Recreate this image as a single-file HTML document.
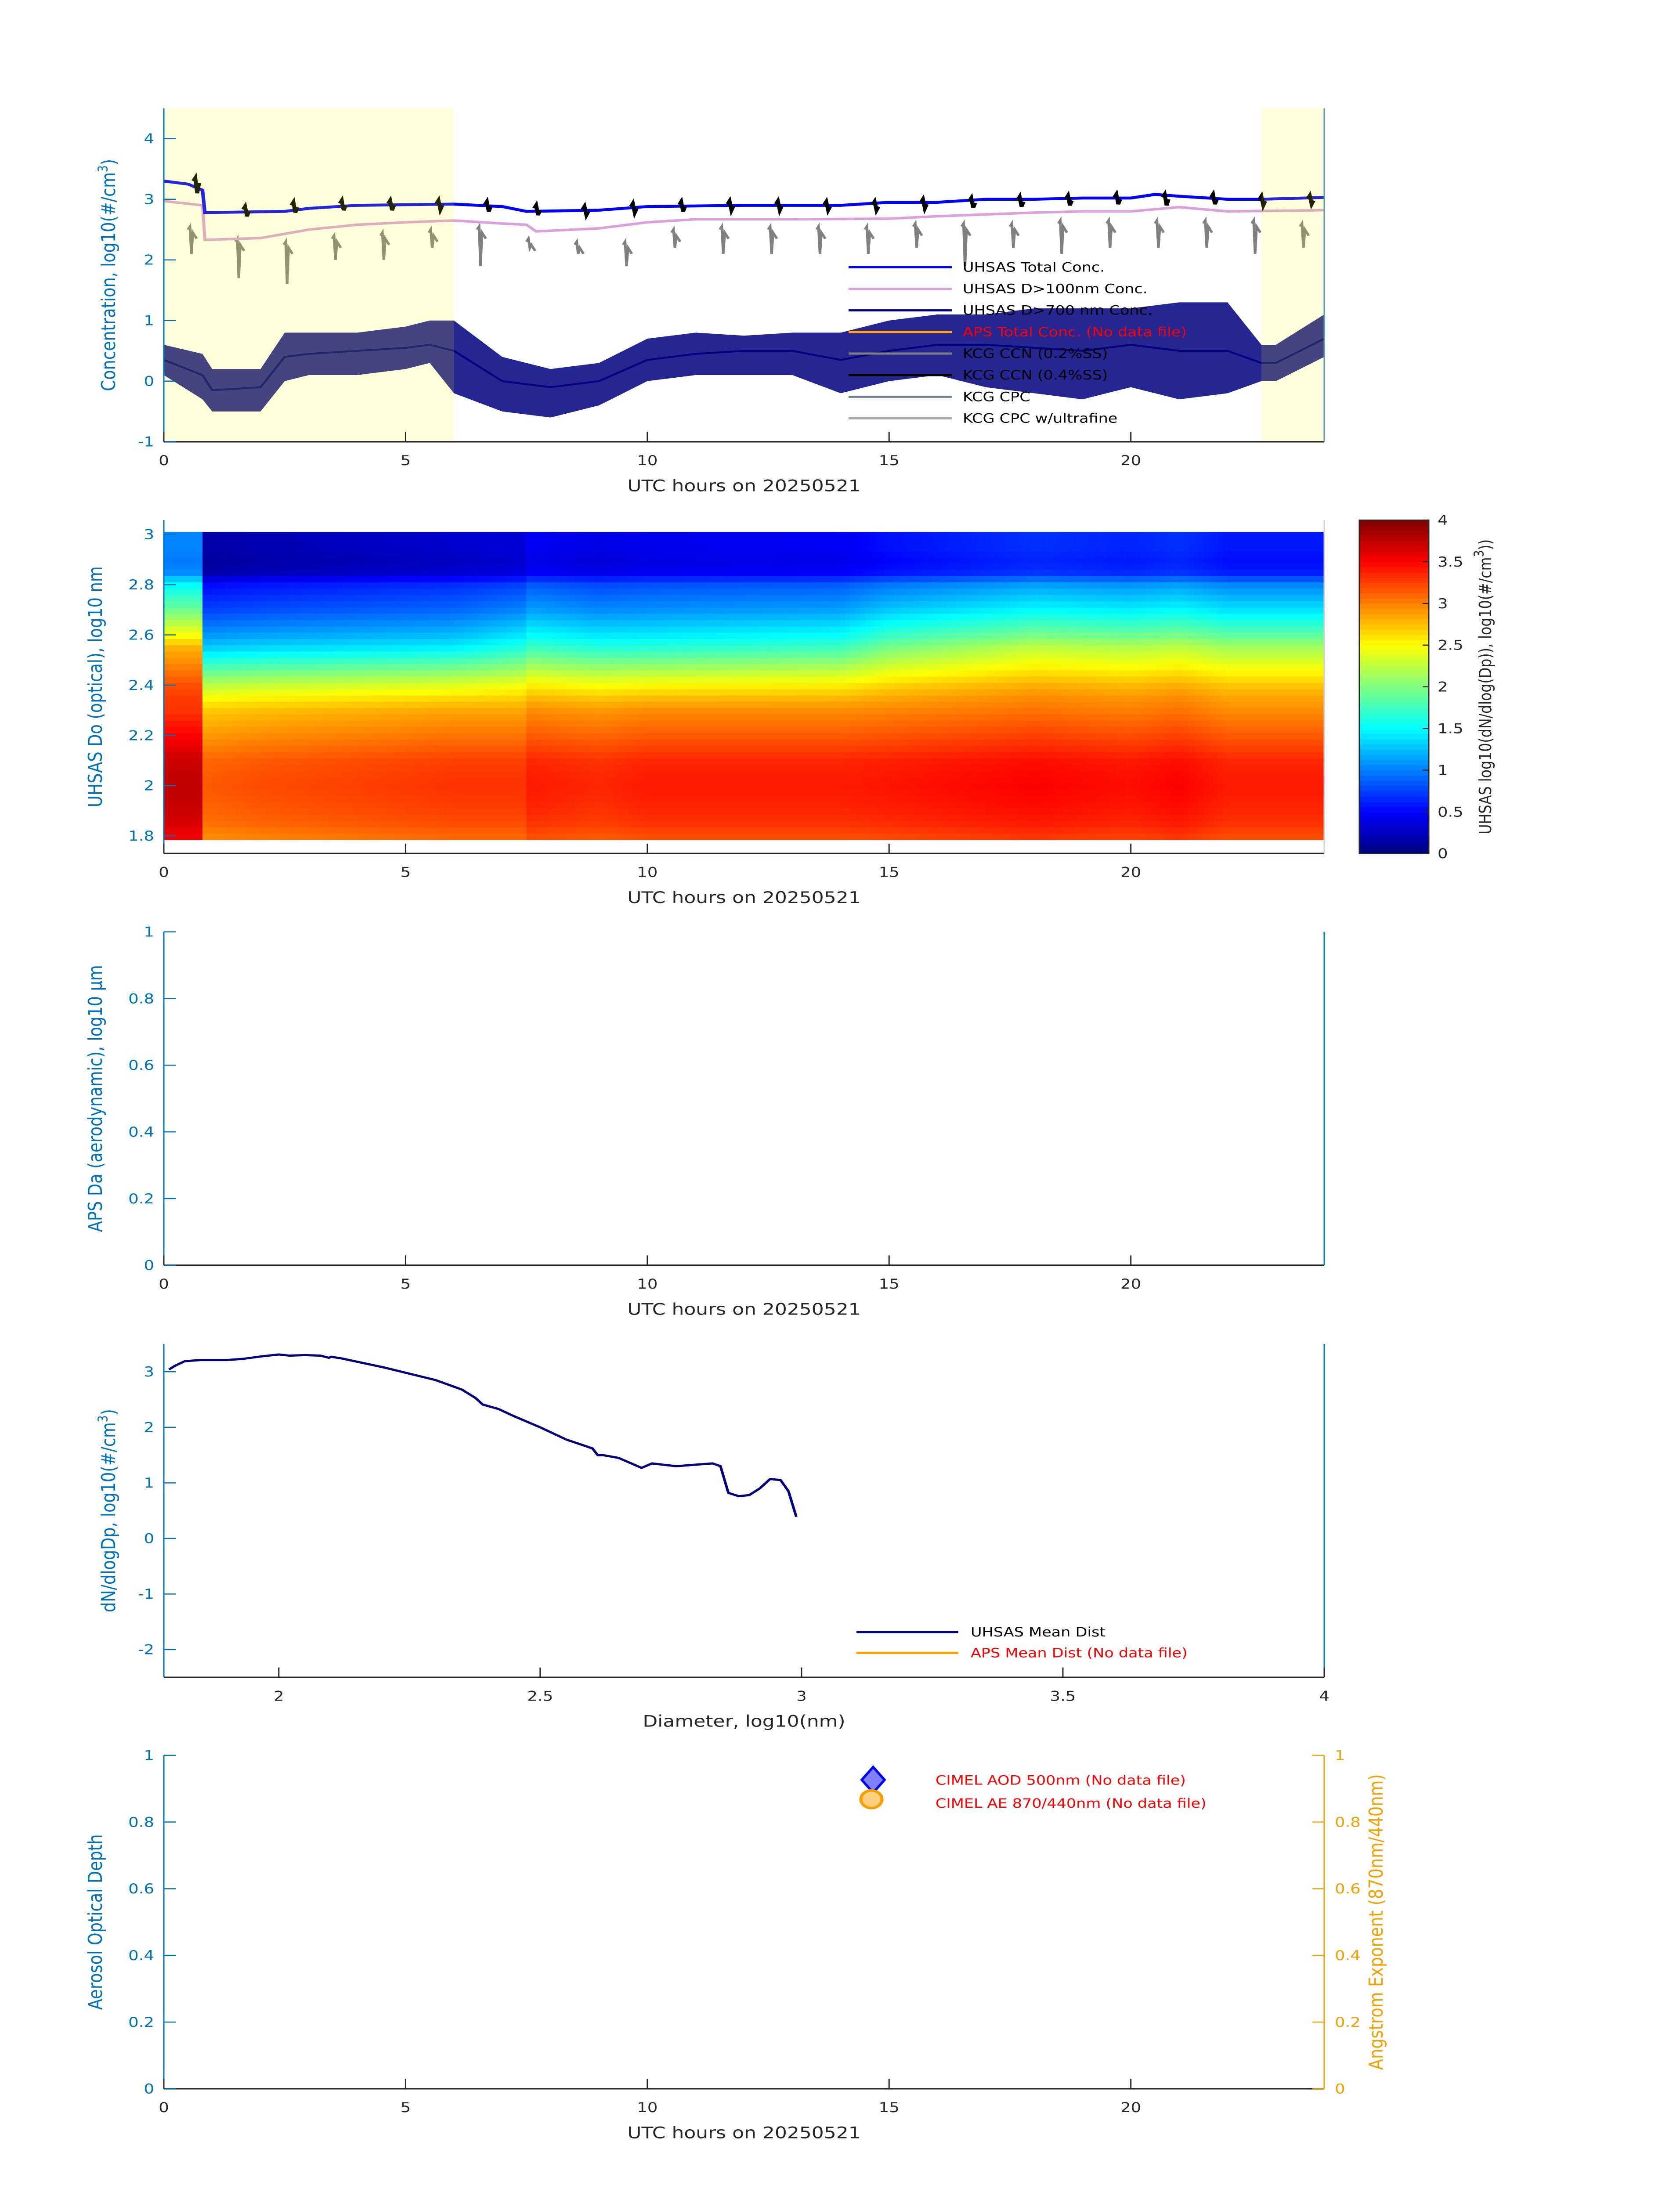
<!DOCTYPE html>
<html><head><meta charset="utf-8"><title>Aerosol summary 20250521</title>
<style>
html,body{margin:0;padding:0;background:#fff;overflow:hidden;width:100vw;height:100vh;}
svg{display:block;width:100vw;height:100vh;font-family:"DejaVu Sans","Liberation Sans",sans-serif;}
</style></head>
<body>
<svg id="fig" xmlns="http://www.w3.org/2000/svg" viewBox="0 0 3825 6000" preserveAspectRatio="none">
<rect x="0" y="0" width="3825" height="6000" fill="#fff"/>
<g id="p1"></g>
<g id="p2"></g>
<g id="p3"></g>
<g id="p4"></g>
<g id="p5"></g>
</svg>
<script>
// ---------- Panel 1 data ----------
const totTimes=[0,0.5,0.8,0.85,2.5,3,4,6,7,7.5,9,10,12,14,15,16,17,18,19,20,20.5,21,22,22.7,24];
const totVals=[3.3,3.25,3.15,2.78,2.8,2.85,2.9,2.92,2.88,2.8,2.82,2.88,2.9,2.9,2.95,2.95,3.0,3.0,3.02,3.02,3.08,3.05,3.0,3.0,3.03];
const d100Times=[0,0.8,0.85,2,3,4,5,6,7,7.5,7.7,9,10,11,13,15,16,17,18,19,20,21,22,24];
const d100Vals=[2.97,2.9,2.33,2.36,2.5,2.58,2.62,2.65,2.6,2.58,2.47,2.52,2.62,2.67,2.67,2.68,2.72,2.75,2.78,2.8,2.8,2.87,2.8,2.82];
const d700Times=[0,0.8,1,2,2.5,3,4,5,5.5,6,7,8,9,10,11,12,13,14,15,16,17,18,19,20,21,22,22.7,23,24];
const d700Mean=[0.35,0.1,-0.15,-0.1,0.4,0.45,0.5,0.55,0.6,0.5,0.0,-0.1,0.0,0.35,0.45,0.5,0.5,0.35,0.5,0.6,0.6,0.55,0.5,0.6,0.5,0.5,0.3,0.3,0.7];
const d700Low=[0.1,-0.3,-0.5,-0.5,0.0,0.1,0.1,0.2,0.3,-0.2,-0.5,-0.6,-0.4,0.0,0.1,0.1,0.1,-0.2,0.0,0.1,-0.1,-0.2,-0.3,-0.1,-0.3,-0.2,0.0,0.0,0.4];
const d700High=[0.6,0.45,0.2,0.2,0.8,0.8,0.8,0.9,1.0,1.0,0.4,0.2,0.3,0.7,0.8,0.75,0.8,0.8,1.0,1.1,1.1,1.2,1.2,1.2,1.3,1.3,0.6,0.6,1.1];
const ccn2Times=[0.5,1.48,2.48,3.48,4.48,5.48,6.48,7.5,8.5,9.5,10.5,11.5,12.5,13.5,14.5,15.5,16.5,17.5,18.5,19.5,20.5,21.5,22.5,23.5];
const ccn2Top=[2.55,2.35,2.3,2.4,2.45,2.5,2.55,2.35,2.3,2.3,2.5,2.55,2.55,2.55,2.55,2.6,2.6,2.6,2.65,2.65,2.65,2.65,2.65,2.6];
const ccn2Bot=[2.1,1.7,1.6,2.0,2.0,2.2,1.9,2.2,2.1,1.9,2.2,2.1,2.1,2.1,2.1,2.2,1.9,2.2,2.1,2.2,2.2,2.2,2.1,2.2];
const ccn4Times=[0.65,1.68,2.68,3.68,4.68,5.68,6.68,7.7,8.7,9.7,10.7,11.7,12.7,13.7,14.7,15.7,16.7,17.7,18.7,19.7,20.7,21.7,22.7,23.7];
const ccn4Top=[3.35,2.88,2.95,2.98,2.98,2.98,2.96,2.9,2.88,2.93,2.96,2.97,2.97,2.96,2.96,3.0,3.02,3.04,3.06,3.08,3.08,3.08,3.05,3.06];
const ccn4Bot=[3.1,2.72,2.78,2.82,2.82,2.83,2.8,2.74,2.74,2.78,2.8,2.82,2.82,2.82,2.82,2.85,2.86,2.88,2.9,2.92,2.9,2.92,2.9,2.92];
const shadeStarts=[0,22.7];
const shadeEnds=[6,24];
const p1YTicks=[-1,0,1,2,3,4];
const timeTicks=[0,5,10,15,20];
const legend1Labels=["UHSAS Total Conc.","UHSAS D>100nm Conc.","UHSAS D>700 nm Conc.","APS Total Conc. (No data file)","KCG CCN (0.2%SS)","KCG CCN (0.4%SS)","KCG CPC","KCG CPC w/ultrafine"];
const legend1Colors=["#0000ff","#dda0dd","#000080","#ffa500","#808080","#000000","#708090","#a9a9a9"];
// ---------- Panel 2 data ----------
const sizeNodes=[1.8,1.85,1.9,1.95,2.0,2.05,2.1,2.15,2.2,2.25,2.3,2.35,2.4,2.45,2.5,2.55,2.6,2.65,2.7,2.75,2.8,2.85,2.9,2.95,3.0];
const sizeProfile=[3.2,3.3,3.35,3.38,3.4,3.38,3.35,3.25,3.15,3.05,2.95,2.8,2.6,2.35,2.1,1.85,1.6,1.4,1.2,1.05,0.9,0.5,0.45,0.5,0.5];
const offTimes=[0,0.8,0.8,2,4,6,7.5,7.5,9,10,12,14,16,18,20,21,22,23,24];
const offVals=[0.35,0.35,-0.25,-0.2,-0.15,-0.1,-0.1,0,-0.05,0,0,0,0.05,0.1,0.05,0.1,0,0,0];
const upTimes=[0,0.8,0.8,6,7.5,10,14,15,18,20,24];
const upVals=[0.6,0.6,-0.3,-0.3,-0.1,-0.2,-0.1,0.1,0.3,0.3,0.3];
const p2YTicks=[1.8,2,2.2,2.4,2.6,2.8,3];
const cbTicks=[0,0.5,1,1.5,2,2.5,3,3.5,4];
// ---------- Panel 3/5 ticks ----------
const unitTicks=[0,0.2,0.4,0.6,0.8,1];
// ---------- Panel 4 data ----------
const meanDiam=[1.79,1.8,1.82,1.85,1.9,1.93,1.97,2.0,2.02,2.05,2.08,2.096,2.1,2.12,2.2,2.3,2.35,2.376,2.39,2.42,2.45,2.5,2.55,2.6,2.61,2.62,2.65,2.694,2.714,2.76,2.8,2.83,2.845,2.86,2.88,2.9,2.92,2.94,2.96,2.975,2.99];
const meanDist=[3.04,3.1,3.19,3.21,3.21,3.23,3.28,3.31,3.29,3.3,3.29,3.25,3.27,3.24,3.08,2.85,2.68,2.53,2.41,2.33,2.2,2.0,1.78,1.62,1.5,1.5,1.45,1.27,1.35,1.3,1.33,1.35,1.3,0.82,0.76,0.78,0.9,1.07,1.05,0.85,0.39];
const p4XTicks=[2,2.5,3,3.5,4];
const p4YTicks=[-2,-1,0,1,2,3];

// ---------- helpers ----------
const NS="http://www.w3.org/2000/svg";
const X0=373,X1=3015,H=911;
const TOPS=[296,1421,2546,3672,4796];
const BLUE="#0072BD",DARK="#262626",ORANGE="#F5A000";
function mk(parent,tag,attrs,text){const e=document.createElementNS(NS,tag);for(const k in attrs)e.setAttribute(k,attrs[k]);if(text!==undefined)e.textContent=text;parent.appendChild(e);return e;}
function interp(xs,ys,x){if(x<=xs[0])return ys[0];for(let i=1;i<xs.length;i++){if(x<=xs[i]){const d=xs[i]-xs[i-1];if(d<=0)return ys[i];return ys[i-1]+(ys[i]-ys[i-1])*(x-xs[i-1])/d;}}return ys[ys.length-1];}
const xT=t=>X0+(t/24)*(X1-X0);
function yScale(top,min,max){return v=>top+(max-v)/(max-min)*H;}
function jet(v){let x=Math.max(0,Math.min(1,v));const c=f=>Math.round(255*Math.max(0,Math.min(1,f)));return `rgb(${c(1.5-Math.abs(4*x-3))},${c(1.5-Math.abs(4*x-2))},${c(1.5-Math.abs(4*x-1))})`;}
function fmt(v){return (Math.round(v*10)/10).toString();}

function timeXAxis(g,top){
  const bot=top+H;
  for(const t of timeTicks){
    const tk=mk(g,'line',{x1:xT(t),x2:xT(t),y1:bot,y2:bot-27,stroke:DARK,'stroke-width':3});
    
    
    const tl=mk(g,'text',{x:xT(t),y:bot+64,'font-size':37,fill:DARK,'text-anchor':'middle'},String(t));
    
    
  }
  const xl=mk(g,'text',{x:(X0+X1)/2,y:bot+135,'font-size':44,fill:DARK,'text-anchor':'middle'},'UTC hours on 20250521');
  
  
}
function leftYAxis(g,top,ticks,ys,color,labelFmt){
  for(const v of ticks){
    const tk=mk(g,'line',{x1:X0,x2:X0+27,y1:ys(v),y2:ys(v),stroke:color,'stroke-width':3});
    
    
    const tl=mk(g,'text',{x:X0-22,y:ys(v)+13,'font-size':37,fill:color,'text-anchor':'end'},labelFmt(v));
    
    
  }
}
function frame(g,top,rightColor){
  const bot=top+H;
  const l=mk(g,'line',{x1:X0,x2:X0,y1:top,y2:bot,stroke:BLUE,'stroke-width':3});
  
  
  const b=mk(g,'line',{x1:X0,x2:X1,y1:bot,y2:bot,stroke:DARK,'stroke-width':4});
  
  
  if(rightColor){
    const r=mk(g,'line',{x1:X1,x2:X1,y1:top,y2:bot,stroke:rightColor,'stroke-width':3});
    
    
  }
}
function yTitle(g,cx,cy,color,parts){
  const t=mk(g,'text',{x:0,y:0,'font-size':44,fill:color,'text-anchor':'middle',transform:`translate(${cx},${cy}) rotate(-90)`});
  for(const p of parts){mk(t,'tspan',p.sup?{'baseline-shift':'super','font-size':30}:{},p.t);}
  return t;
}

// ================= Panel 1 =================
(function(){
  const g=document.getElementById('p1');const top=TOPS[0];const y=yScale(top,-1,4.5);
  let pts=[];
  for(let i=0;i<d700Times.length;i++)pts.push(xT(d700Times[i])+','+y(d700High[i]));
  for(let i=d700Times.length-1;i>=0;i--)pts.push(xT(d700Times[i])+','+y(d700Low[i]));
  const env=mk(g,'polygon',{points:pts.join(' '),fill:'#000080','fill-opacity':0.85});
  
  
  const mline=mk(g,'polyline',{points:d700Times.map((t,i)=>xT(t)+','+y(d700Mean[i])).join(' '),fill:'none',stroke:'#000080','stroke-width':5});
  
  
  for(let i=0;i<ccn2Times.length;i++){
    const t=ccn2Times[i];
    const p=mk(g,'polyline',{points:`${xT(t)},${y(ccn2Top[i]-0.05)} ${xT(t+0.04)},${y(ccn2Top[i])} ${xT(t+0.07)},${y(ccn2Bot[i])} ${xT(t+0.1)},${y(ccn2Top[i]-0.1)} ${xT(t+0.18)},${y(ccn2Top[i]-0.2)}`,fill:'none',stroke:'#808080','stroke-width':6});
    
    
  }
  const pk=mk(g,'polyline',{points:d100Times.map((t,i)=>xT(t)+','+y(d100Vals[i])).join(' '),fill:'none',stroke:'#dda0dd','stroke-width':7});
  
  
  const bl=mk(g,'polyline',{points:totTimes.map((t,i)=>xT(t)+','+y(totVals[i])).join(' '),fill:'none',stroke:'#0000ff','stroke-width':8});
  
  
  for(let i=0;i<ccn4Times.length;i++){
    const t=ccn4Times[i];
    const p=mk(g,'polyline',{points:`${xT(t-0.04)},${y(ccn4Top[i]-0.05)} ${xT(t)},${y(ccn4Top[i])} ${xT(t+0.04)},${y(ccn4Bot[i])} ${xT(t+0.08)},${y(ccn4Top[i]-0.08)}`,fill:'none',stroke:'#000','stroke-width':9});
    
    
  }
  for(let i=0;i<shadeStarts.length;i++){
    const r=mk(g,'rect',{x:xT(shadeStarts[i]),y:top,width:xT(shadeEnds[i])-xT(shadeStarts[i]),height:H,fill:'#ffff00','fill-opacity':0.14});
    
    
  }
  frame(g,top,'#5a9ab8');
  leftYAxis(g,top,p1YTicks,y,BLUE,v=>String(v));
  timeXAxis(g,top);
  const yt=yTitle(g,262,top+H/2,BLUE,[{t:'Concentration, log10(#/cm'},{t:'3',sup:1},{t:')'}]);
  
  
  for(let i=0;i<legend1Labels.length;i++){
    const ly=730+i*59;
    const ln=mk(g,'line',{x1:1932,x2:2167,y1:ly,y2:ly,stroke:legend1Colors[i],'stroke-width':6});
    
    
    const tx=mk(g,'text',{x:2192,y:ly+12,'font-size':35,fill:i===3?'#ff0000':'#000'},legend1Labels[i]);
    
    
  }
})();

// ================= Panel 2 =================
(function(){
  const g=document.getElementById('p2');const top=TOPS[1];
  const ymin=1.73,ymax=3.057;const y=v=>top+(ymax-v)/(ymax-ymin)*H;
  const dt=0.1,dd=0.025;
  const hm=mk(g,'g',{'shape-rendering':'crispEdges'});
  
  
  for(let t=0;t<24-1e-9;t+=dt){
    const off=interp(offTimes,offVals,t+dt/2);
    const up=interp(upTimes,upVals,t+dt/2);
    for(let d=1.785;d<3.0-1e-9;d+=dd){
      const dm=d+dd/2;
      let w;
      if(dm<2.3)w=0;else if(dm<2.55)w=(dm-2.3)/0.25;else if(dm<2.85)w=1-0.7*(dm-2.55)/0.3;else w=0.3;
      const v=interp(sizeNodes,sizeProfile,dm)+off+w*up;
      const c=mk(hm,'rect',{x:xT(t).toFixed(1),y:y(d+dd).toFixed(1),width:(xT(t+dt)-xT(t)+0.8).toFixed(1),height:(y(d)-y(d+dd)+0.8).toFixed(1),fill:jet(v/4)});
      
      
    }
  }
  frame(g,top,'#d0d0d0');
  leftYAxis(g,top,p2YTicks,y,BLUE,v=>fmt(v));
  timeXAxis(g,top);
  const yt=yTitle(g,232,top+H/2,BLUE,[{t:'UHSAS Do (optical), log10 nm'}]);
  
  
  const cx0=3095,cx1=3253;const cy=v=>top+(4-v)/4*H;
  const cb=mk(g,'g',{'shape-rendering':'crispEdges'});
  
  
  for(let k=0;k<64;k++){
    const r=mk(cb,'rect',{x:cx0,y:cy((k+1)/16).toFixed(1),width:cx1-cx0,height:(H/64+0.8).toFixed(1),fill:jet((k+0.5)/64)});
    
    
  }
  mk(g,'rect',{x:cx0,y:top,width:cx1-cx0,height:H,fill:'none',stroke:DARK,'stroke-width':3});
  for(const v of cbTicks){
    mk(g,'line',{x1:cx1-14,x2:cx1,y1:cy(v),y2:cy(v),stroke:DARK,'stroke-width':3});
    const tl=mk(g,'text',{x:cx1+20,y:cy(v)+13,'font-size':37,fill:DARK},String(v));
    
    
  }
  const ct=yTitle(g,3395,top+H/2,DARK,[{t:'UHSAS log10(dN/dlog(Dp)), log10(#/cm'},{t:'3',sup:1},{t:'))'}]);
  ct.setAttribute('font-size',38);
  
  
})();

// ================= Panel 3 =================
(function(){
  const g=document.getElementById('p3');const top=TOPS[2];const y=yScale(top,0,1);
  frame(g,top,BLUE);
  leftYAxis(g,top,unitTicks,y,BLUE,v=>fmt(v));
  timeXAxis(g,top);
  const yt=yTitle(g,232,top+H/2,BLUE,[{t:'APS Da (aerodynamic), log10 μm'}]);
  
  
})();

// ================= Panel 4 =================
(function(){
  const g=document.getElementById('p4');const top=TOPS[3];const y=yScale(top,-2.5,3.5);
  const xD=d=>X0+(d-1.78)/(4-1.78)*(X1-X0);
  const ln=mk(g,'polyline',{points:meanDiam.map((d,i)=>xD(d).toFixed(1)+','+y(meanDist[i]).toFixed(1)).join(' '),fill:'none',stroke:'#000080','stroke-width':6,'stroke-linejoin':'round'});
  
  
  frame(g,top,BLUE);
  leftYAxis(g,top,p4YTicks,y,BLUE,v=>String(v));
  const bot=top+H;
  for(const d of p4XTicks){
    mk(g,'line',{x1:xD(d),x2:xD(d),y1:bot,y2:bot-27,stroke:DARK,'stroke-width':3});
    const tl=mk(g,'text',{x:xD(d),y:bot+64,'font-size':37,fill:DARK,'text-anchor':'middle'},String(d));
    
    
  }
  const xl=mk(g,'text',{x:(X0+X1)/2,y:bot+135,'font-size':44,fill:DARK,'text-anchor':'middle'},'Diameter,  log10(nm)');
  
  
  const yt=yTitle(g,262,top+H/2,BLUE,[{t:'dN/dlogDp, log10(#/cm'},{t:'3',sup:1},{t:')'}]);
  
  
  const labs=['UHSAS Mean Dist','APS Mean Dist (No data file)'];const cols=['#000080','#ffa500'];
  for(let i=0;i<2;i++){
    const ly=4459+i*57;
    const sw=mk(g,'line',{x1:1950,x2:2182,y1:ly,y2:ly,stroke:cols[i],'stroke-width':6});
    
    
    const tx=mk(g,'text',{x:2210,y:ly+12,'font-size':35,fill:i?'#ff0000':'#000'},labs[i]);
    
    
  }
})();

// ================= Panel 5 =================
(function(){
  const g=document.getElementById('p5');const top=TOPS[4];const y=yScale(top,0,1);
  frame(g,top,null);
  const bot=top+H;
  const ra=mk(g,'line',{x1:X1,x2:X1,y1:top,y2:bot,stroke:ORANGE,'stroke-width':3});
  
  
  leftYAxis(g,top,unitTicks,y,BLUE,v=>fmt(v));
  for(const v of unitTicks){
    mk(g,'line',{x1:X1-27,x2:X1,y1:y(v),y2:y(v),stroke:ORANGE,'stroke-width':3});
    const tl=mk(g,'text',{x:X1+24,y:y(v)+13,'font-size':37,fill:ORANGE},fmt(v));
    
    
  }
  timeXAxis(g,top);
  const yt=yTitle(g,232,top+H/2,BLUE,[{t:'Aerosol Optical Depth'}]);
  
  
  const rt=yTitle(g,3148,top+H/2,ORANGE,[{t:'Angstrom Exponent (870nm/440nm)'}]);
  
  
  const dm=mk(g,'polygon',{points:'1988,4828 2014,4863 1988,4898 1962,4863',fill:'#8080ff',stroke:'#0000ff','stroke-width':6});
  
  
  const cc=mk(g,'ellipse',{cx:1984,cy:4916,rx:24,ry:24,fill:'#ffd080',stroke:ORANGE,'stroke-width':7});
  
  
  const t1=mk(g,'text',{x:2130,y:4876,'font-size':35,fill:'#ff0000'},'CIMEL AOD 500nm (No data file)');
  
  
  const t2=mk(g,'text',{x:2130,y:4939,'font-size':35,fill:'#ff0000'},'CIMEL AE 870/440nm (No data file)');
  
  
})();
</script>
</body></html>
